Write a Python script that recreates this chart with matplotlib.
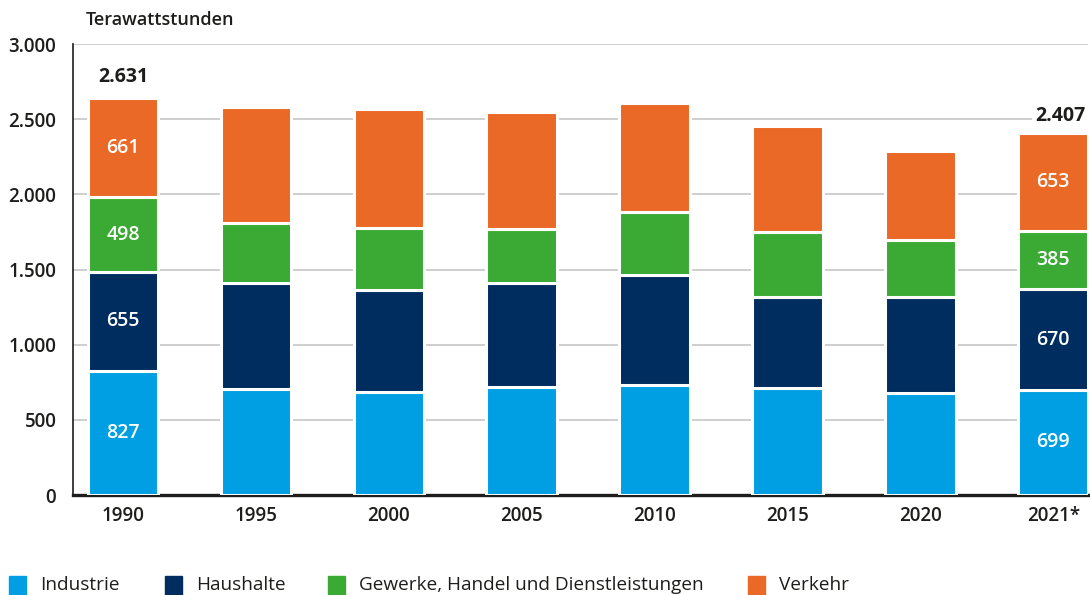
import matplotlib.pyplot as plt
from matplotlib.patches import Rectangle

years = ["1990", "1995", "2000", "2005", "2010", "2015", "2020", "2021*"]
industrie = [827, 703, 683, 720, 729, 713, 678, 699]
haushalte = [655, 705, 678, 690, 732, 601, 636, 670]
ghd = [498, 402, 412, 359, 421, 433, 384, 385]
verkehr = [661, 772, 793, 776, 724, 711, 589, 653]
totals = ["2.631", "", "", "", "", "", "", "2.407"]
labelled = [0, 7]

names = ["Industrie", "Haushalte", "Gewerke, Handel und Dienstleistungen", "Verkehr"]
colors = ["#009fe3", "#002d5f", "#3aaa35", "#eb6927"]
series = [industrie, haushalte, ghd, verkehr]

plt.rcParams["font.family"] = ["Open Sans", "DejaVu Sans"]
text_col = "#1d1d1b"
fs = 13.5

fig = plt.figure(figsize=(10.9, 5.95), dpi=100)
ax = fig.add_axes([0.067, 0.168, 0.931, 0.758])

x = list(range(len(years)))
bottom = [0] * len(years)
for vals, col in zip(series, colors):
    ax.bar(x, vals, bottom=bottom, width=0.53, color=col,
           edgecolor="white", linewidth=2.2, zorder=3)
    for i in labelled:
        ax.text(x[i], bottom[i] + vals[i] / 2, str(vals[i]), color="white",
                ha="center", va="center", fontsize=14, fontweight="semibold", zorder=4)
    bottom = [b + v for b, v in zip(bottom, vals)]

# totals above bars
ax.text(x[0], 2780, totals[0], ha="center", va="center", fontsize=14,
        fontweight="bold", color=text_col)
ax.text(x[7] + 0.05, 2520, totals[7], ha="center", va="center", fontsize=14,
        fontweight="bold", color=text_col, zorder=5,
        bbox=dict(facecolor="white", edgecolor="none", pad=2))

ax.set_xlim(-0.376, 7.26)
ax.set_ylim(0, 3000)
ax.set_yticks([0, 500, 1000, 1500, 2000, 2500, 3000])
ax.set_yticklabels(["0", "500", "1.000", "1.500", "2.000", "2.500", "3.000"])
ax.set_xticks(x)
ax.set_xticklabels(years)
ax.tick_params(axis="both", length=0, labelsize=fs, labelcolor=text_col)
ax.tick_params(axis="y", pad=12)
ax.tick_params(axis="x", pad=8)
for lab in ax.get_xticklabels() + ax.get_yticklabels():
    lab.set_fontweight("semibold")

ax.yaxis.grid(True, color="#cccccc", linewidth=1.3, zorder=0)
ax.set_axisbelow(True)
for s in ["top", "right"]:
    ax.spines[s].set_visible(False)
ax.spines["left"].set_linewidth(1.2)
ax.spines["left"].set_color(text_col)
ax.spines["bottom"].set_linewidth(2.4)
ax.spines["bottom"].set_color(text_col)

fig.text(86 / 1090, 1 - 20 / 595, "Terawattstunden", ha="left", va="center",
         fontsize=13, fontweight="semibold", color=text_col)

# legend along the bottom edge
leg_x = [9, 165, 328, 748]
for lx, name, col in zip(leg_x, names, colors):
    fig.patches.append(Rectangle((lx / 1090, 0.0), 17 / 1090, 19 / 595,
                                 transform=fig.transFigure, color=col, figure=fig))
    fig.text((lx + 31) / 1090, 10 / 595, name, ha="left", va="center",
             fontsize=13.7, color=text_col)

fig.savefig("out.png", dpi=100)
